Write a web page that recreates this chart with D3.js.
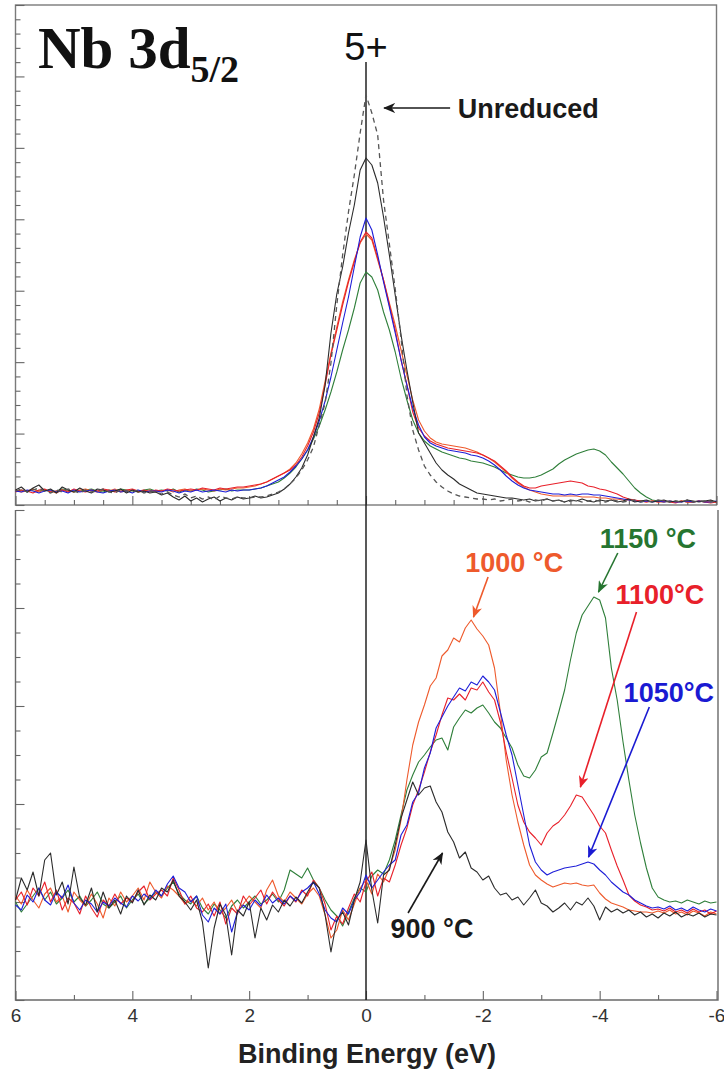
<!DOCTYPE html>
<html>
<head>
<meta charset="utf-8">
<script src="https://cdn.jsdelivr.net/npm/d3@7"></script>
<style>
  body { margin: 0; background: #fff; }
  svg { display: block; }
</style>
</head>
<body>
<svg id="chart" width="724" height="1070"></svg>
<script>
// Binding energy grid (eV), 6 → -6 in 0.1 eV steps; 121 samples per spectrum
const energy = d3.range(60, -61, -1).map(i => i / 10);

// ---- Upper panel: as-measured Nb 3d5/2 spectra (a.u.) ----
const topUnreduced = [
  14,16,13,15,17,14,12,15,13,16,14,12,15,13,14,16,13,12,15,14,13,15,12,14,13,
  11,13,10,8,11,7,9,6,8,5,9,7,6,8,7,
  7,8,8,9,11,13,16,21,27,35,45,58,80,102,142,200,250,293,330,372,
  410,
  392,370,305,261,216,167,110,75,55,39,30,23,18,14,11,9,8,7,6,6,
  5,6,4,5,6,4,5,3,5,4,6,4,5,3,4,5,3,4,5,4,3,5,4,3,4,5,3,4,3,5,4,3,4,3,5,3,4,4,3,4
];
const top900 = [
  15,18,13,17,20,14,16,12,18,15,13,17,14,12,16,15,13,14,16,12,15,13,14,12,13,
  10,12,8,5,9,4,7,3,6,8,4,7,5,8,6,
  7,9,7,8,10,12,16,21,28,37,50,68,87,120,172,211,238,272,300,335,
  347,
  340,322,288,250,210,170,135,103,72,62,52,42,35,30,26,21,18,15,12,11,
  10,9,8,7,7,6,5,6,4,5,6,4,5,3,5,4,6,4,3,5,4,5,3,4,6,3,4,5,3,4,5,3,4,3,5,4,3,4,5,3
];
const top1000 = [
  15,13,14,16,13,15,14,12,15,14,13,15,16,14,13,15,14,16,13,14,15,13,14,15,13,
  14,15,13,15,16,14,15,16,15,14,16,15,16,17,17,
  18,19,21,23,26,29,32,36,42,51,62,76,96,124,152,178,203,225,245,262,
  271,
  265,245,225,202,180,155,130,105,85,74,67,63,61,60,59,58,57,55,53,50,
  47,43,38,33,27,22,18,15,13,11,10,9,9,9,9,9,8,8,8,7,7,6,6,5,5,4,4,3,4,3,3,4,3,4,3,3,4,3,4,3
];
const top1050 = [
  14,13,15,14,12,14,15,13,14,12,15,13,14,15,13,12,14,15,13,14,12,15,13,14,14,
  13,15,14,12,14,13,15,13,14,15,14,13,15,14,15,
  15,16,17,19,22,25,28,33,39,46,55,68,84,104,128,155,182,208,238,268,
  287,
  275,250,223,198,172,145,120,97,80,68,62,59,57,55,54,53,52,50,49,47,
  44,40,35,29,24,20,17,15,14,13,12,11,11,10,11,10,11,11,10,10,9,8,7,6,5,4,3,4,3,4,3,4,3,3,4,3,4,3,3,4
];
const top1100 = [
  13,15,14,12,15,16,13,14,15,13,16,14,13,15,14,16,15,13,14,15,16,14,15,13,15,
  14,16,15,14,15,16,15,17,16,15,17,16,17,18,18,
  19,20,21,23,26,29,32,35,40,48,59,73,92,120,150,175,200,223,243,263,
  273,
  267,247,225,200,175,145,120,93,77,69,64,61,59,57,56,55,54,53,52,50,
  47,44,39,34,28,23,19,17,17,19,20,21,22,23,24,23,22,19,18,16,15,13,11,8,6,5,4,3,4,3,4,3,2,4,3,3,4,3,2,3
];
const top1150 = [
  14,15,13,16,14,15,13,14,16,15,13,14,15,16,14,13,15,14,16,15,14,13,15,16,14,
  15,14,16,13,15,14,16,15,13,14,15,16,14,15,15,
  15,16,17,19,21,23,27,32,38,46,55,66,79,95,113,133,155,175,197,222,
  233,
  228,215,193,175,153,127,105,85,72,64,59,56,53,51,49,47,46,44,43,42,
  40,38,35,32,30,28,27,27,28,30,33,36,41,45,48,51,53,55,56,54,50,43,37,31,24,17,12,8,5,4,3,4,3,4,3,3,4,3,4,3
];

// ---- Lower panel: spectra after subtracting the Nb5+ component (a.u.) ----
const bot900 = [
  100,122,110,128,104,140,147,105,118,96,133,102,95,112,88,108,92,100,86,104,97,110,95,105,100,
  112,108,120,104,98,90,100,78,32,72,96,85,45,90,84,98,62,92,80,95,88,100,94,103,97,
  108,118,112,85,48,80,88,75,100,118,160,110,77,125,130,
  155,182,200,218,205,212,214,198,188,168,158,142,148,132,128,120,124,112,105,107,
  100,103,95,102,110,97,94,88,92,97,90,98,95,102,94,80,93,88,91,87,
  90,85,88,83,86,82,87,84,88,83,86,84,87,83,86,85
];
const bot1000 = [
  104,96,110,100,92,106,112,98,104,88,108,100,94,106,96,82,102,94,108,98,104,112,100,118,108,
  102,114,110,104,96,100,94,102,90,98,86,92,100,88,96,104,98,92,110,120,104,98,108,102,96,
  106,112,104,85,62,70,90,80,96,112,120,106,126,118,132,
  150,180,220,255,278,295,314,322,344,350,362,358,372,380,371,364,355,332,288,240,
  205,178,155,135,125,120,116,113,115,117,116,117,115,114,115,107,101,97,95,93,
  90,89,88,88,87,89,87,90,86,88,85,89,87,84,88,86
];
const bot1050 = [
  95,90,105,98,112,100,95,108,102,115,97,90,100,96,88,98,94,102,97,93,104,99,106,101,110,
  104,116,124,112,108,98,104,85,78,92,86,96,68,88,95,90,100,94,105,97,102,96,104,99,108,
  112,118,106,90,82,78,92,86,100,108,125,112,120,128,135,
  140,165,175,198,207,232,247,272,283,294,303,312,309,318,315,324,318,310,288,265,
  245,215,185,155,138,130,125,128,130,132,133,134,136,138,136,130,125,118,113,108,
  105,100,97,94,92,93,91,94,90,92,89,93,90,88,91,89
];
const bot1100 = [
  100,108,95,112,104,118,98,110,90,102,97,86,104,92,83,100,94,106,96,102,98,108,114,100,106,
  110,104,122,110,96,104,92,88,96,84,98,76,92,86,104,95,102,110,96,108,100,94,104,98,110,
  104,120,112,96,70,84,76,92,106,98,118,128,104,122,118,
  135,155,172,195,210,228,248,265,285,302,300,306,300,312,310,318,308,300,278,248,
  222,195,178,168,162,155,167,174,178,185,194,205,203,194,185,174,167,150,134,120,
  105,99,95,93,90,91,89,92,88,90,87,91,88,90,86,89
];
const bot1150 = [
  98,88,96,104,112,100,108,96,102,110,98,104,94,100,108,96,92,98,104,92,100,106,96,102,108,
  104,112,118,106,100,96,104,92,86,96,90,82,94,100,92,98,104,96,100,106,98,110,130,126,122,
  132,120,112,100,90,84,74,88,102,112,108,124,130,126,140,
  160,185,210,225,238,245,253,260,262,250,273,282,290,287,292,295,287,278,272,262,
  252,235,224,222,230,243,247,267,288,310,340,367,385,394,403,400,382,332,300,258,
  220,185,157,132,112,103,100,98,99,97,100,98,96,99,97,98
];

// Axis tick labels of the energy axis
const energyTicks = [6, 4, 2, 0, -2, -4, -6];
const energyTickLabels = ["6", "4", "2", "0", "-2", "-4", "-6"];

// Series colours
const colors = {
  c900: "#2b2b2b",
  c1000: "#ee5a2c",
  c1050: "#1e1ed8",
  c1100: "#e8202a",
  c1150: "#2f7f3a"
};

const svg = d3.select("#chart");

const x = d3.scaleLinear().domain([6, -6]).range([15.5, 716.5]);
const yTop = d3.scaleLinear().domain([0, 500]).range([505, 5]);
const yBot = d3.scaleLinear().domain([0, 490]).range([1000, 510]);

// ---- Frames ----
svg.append("rect")
  .attr("x", x(6)).attr("y", yTop(500))
  .attr("width", x(-6) - x(6)).attr("height", yTop(0) - yTop(500))
  .attr("fill", "none").attr("stroke", "#7a7a7a").attr("stroke-width", 1.4);

svg.append("path")
  .attr("d", `M${x(6)},${yBot(490)}V${yBot(0)}H${x(-6) + 1.5}V${yBot(490)}`)
  .attr("fill", "none").attr("stroke", "#6a6a6a").attr("stroke-width", 1.4);

// ---- Ticks (all pointing inward) ----
function styleTicks(g) {
  g.select(".domain").remove();
  g.selectAll(".tick line").attr("stroke", "#666").attr("stroke-width", 1.1);
}

const topY = d3.range(0, 36).map(i => i * 500 / 35);
svg.append("g").attr("transform", `translate(${x(6)},0)`)
  .call(d3.axisLeft(yTop).tickValues(topY.filter((d, i) => i % 5 !== 0)).tickSize(-5).tickFormat(""))
  .call(styleTicks);
svg.append("g").attr("transform", `translate(${x(6)},0)`)
  .call(d3.axisLeft(yTop).tickValues(topY.filter((d, i) => i % 5 === 0)).tickSize(-9).tickFormat(""))
  .call(styleTicks);

const topX = d3.range(-12, 13).map(i => i / 2);
svg.append("g").attr("transform", `translate(0,${yTop(0)})`)
  .call(d3.axisBottom(x).tickValues(topX.filter(d => d % 2 !== 0)).tickSize(-5).tickFormat(""))
  .call(styleTicks);
svg.append("g").attr("transform", `translate(0,${yTop(0)})`)
  .call(d3.axisBottom(x).tickValues(topX.filter(d => d % 2 === 0)).tickSize(-9).tickFormat(""))
  .call(styleTicks);

const botY = d3.range(0, 21).map(i => i * 24.5);
svg.append("g").attr("transform", `translate(${x(6)},0)`)
  .call(d3.axisLeft(yBot).tickValues(botY.filter((d, i) => i % 4 !== 0)).tickSize(-5).tickFormat(""))
  .call(styleTicks);
svg.append("g").attr("transform", `translate(${x(6)},0)`)
  .call(d3.axisLeft(yBot).tickValues(botY.filter((d, i) => i % 4 === 0)).tickSize(-9).tickFormat(""))
  .call(styleTicks);

svg.append("g").attr("transform", `translate(0,${yBot(0)})`)
  .call(d3.axisBottom(x).tickValues([5, 3, 1, -1, -3, -5]).tickSize(-5).tickFormat(""))
  .call(styleTicks);
const xAxis = svg.append("g").attr("transform", `translate(0,${yBot(0)})`)
  .call(d3.axisBottom(x).tickValues(energyTicks).tickSize(-9).tickPadding(9)
    .tickFormat((d, i) => energyTickLabels[i]))
  .call(styleTicks);
xAxis.selectAll("text")
  .attr("font-family", "'Liberation Sans', Arial, sans-serif")
  .attr("font-size", 19).attr("fill", "#333");

svg.append("text")
  .attr("x", x(0) + 1).attr("y", 1063)
  .attr("text-anchor", "middle")
  .attr("font-family", "'Liberation Sans', Arial, sans-serif")
  .attr("font-weight", "bold").attr("font-size", 27).attr("fill", "#222")
  .text("Binding Energy (eV)");

// ---- Nb5+ reference position ----
svg.append("line")
  .attr("x1", x(0)).attr("x2", x(0))
  .attr("y1", 62).attr("y2", yBot(0))
  .attr("stroke", "#222").attr("stroke-width", 1.5);

// ---- Spectra ----
const lineTop = d3.line().x((d, i) => x(energy[i])).y(d => yTop(d));
const lineBot = d3.line().x((d, i) => x(energy[i])).y(d => yBot(d));

const topSeries = [
  { data: top1150, color: colors.c1150 },
  { data: top1000, color: colors.c1000 },
  { data: top1100, color: colors.c1100 },
  { data: top1050, color: colors.c1050 },
  { data: top900, color: colors.c900 }
];
svg.append("g").selectAll("path").data(topSeries).join("path")
  .attr("d", d => lineTop(d.data))
  .attr("fill", "none").attr("stroke", d => d.color)
  .attr("stroke-width", 1.1).attr("stroke-linejoin", "round");

svg.append("path")
  .attr("d", lineTop(topUnreduced))
  .attr("fill", "none").attr("stroke", "#555")
  .attr("stroke-width", 1.3).attr("stroke-dasharray", "5,4");

const botSeries = [
  { data: bot1150, color: colors.c1150 },
  { data: bot1000, color: colors.c1000 },
  { data: bot1100, color: colors.c1100 },
  { data: bot1050, color: colors.c1050 },
  { data: bot900, color: colors.c900 }
];
svg.append("g").selectAll("path").data(botSeries).join("path")
  .attr("d", d => lineBot(d.data))
  .attr("fill", "none").attr("stroke", d => d.color)
  .attr("stroke-width", 1.1).attr("stroke-linejoin", "round");

// ---- Titles ----
const title = svg.append("text")
  .attr("x", 38).attr("y", 68)
  .attr("font-family", "'Liberation Serif', 'Times New Roman', serif")
  .attr("font-weight", "bold").attr("font-size", 59).attr("fill", "#111");
title.append("tspan").text("Nb 3d");
title.append("tspan").attr("font-size", 38).attr("dy", 14).text("5/2");

svg.append("text")
  .attr("x", x(0)).attr("y", 60).attr("text-anchor", "middle")
  .attr("font-family", "'Liberation Sans', Arial, sans-serif")
  .attr("font-size", 38).attr("fill", "#111")
  .text("5+");

// ---- Annotations (positions in energy / intensity units) ----
const defs = svg.append("defs");
function arrowHead(id, color) {
  defs.append("marker")
    .attr("id", id).attr("viewBox", "0 0 12 10")
    .attr("refX", 11).attr("refY", 5)
    .attr("markerWidth", 12).attr("markerHeight", 10)
    .attr("markerUnits", "userSpaceOnUse").attr("orient", "auto")
    .append("path").attr("d", "M0,0 L12,5 L0,10 L3.5,5 Z").attr("fill", color);
}

const annotations = [
  { panel: "top", text: "Unreduced", color: "#1a1a1a", tx: -1.57, ty: 387, from: [-1.44, 397], to: [-0.31, 397] },
  { panel: "bot", text: "1000 °C", color: colors.c1000, tx: -1.70, ty: 428, from: [-2.09, 423], to: [-1.84, 383] },
  { panel: "bot", text: "1150 °C", color: "#267530", tx: -4.00, ty: 452, from: [-4.31, 447], to: [-3.98, 408] },
  { panel: "bot", text: "1100°C", color: colors.c1100, tx: -4.27, ty: 396, from: [-4.63, 388], to: [-3.67, 213] },
  { panel: "bot", text: "1050°C", color: "#1a1ad2", tx: -4.41, ty: 298, from: [-4.85, 293], to: [-3.81, 143] },
  { panel: "bot", text: "900 °C", color: "#1a1a1a", tx: -0.42, ty: 62, from: [-0.72, 87], to: [-1.31, 147] }
];

annotations.forEach((a, k) => {
  const y = a.panel === "top" ? yTop : yBot;
  const id = "arrow" + k;
  arrowHead(id, a.color);
  svg.append("line")
    .attr("x1", x(a.from[0])).attr("y1", y(a.from[1]))
    .attr("x2", x(a.to[0])).attr("y2", y(a.to[1]))
    .attr("stroke", a.color).attr("stroke-width", 1.6)
    .attr("marker-end", `url(#${id})`);
  svg.append("text")
    .attr("x", x(a.tx)).attr("y", y(a.ty))
    .attr("font-family", "'Liberation Sans', Arial, sans-serif")
    .attr("font-weight", "bold").attr("font-size", 27).attr("fill", a.color)
    .text(a.text);
});
</script>
</body>
</html>
